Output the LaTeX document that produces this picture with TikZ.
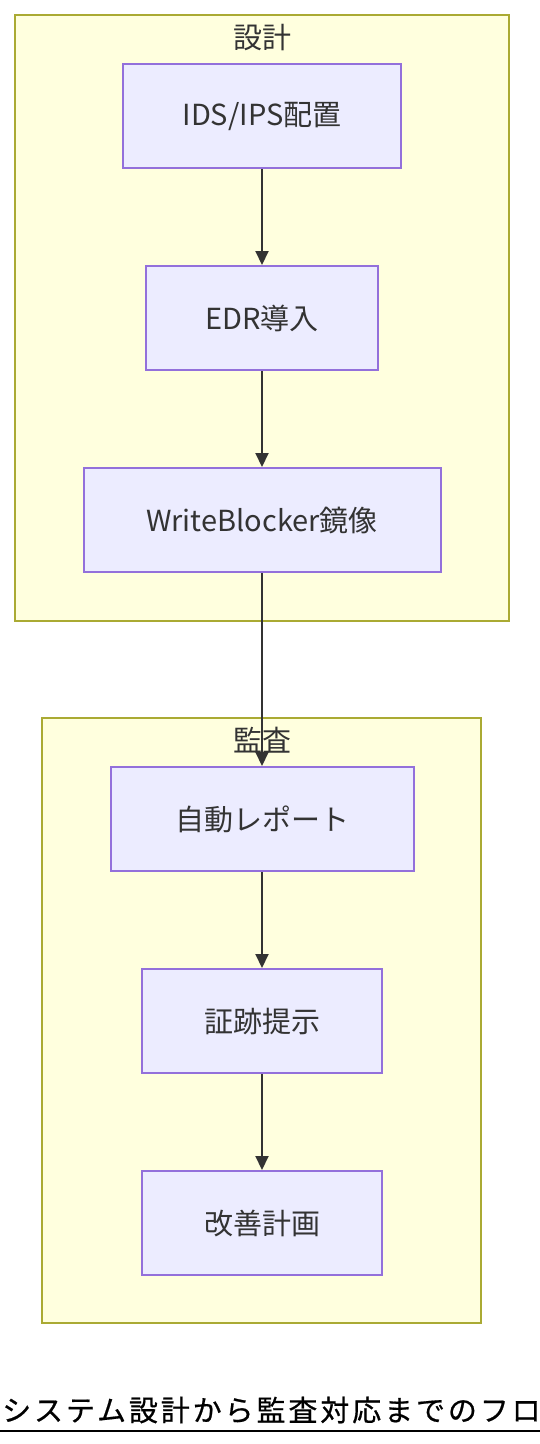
\documentclass[tikz,border=0pt]{standalone}
\usepackage{fontspec}
\setmainfont{Noto Sans CJK JP}
\usepackage{tikz}
\usetikzlibrary{positioning, arrows.meta}
\usepackage{xcolor}

\definecolor{clusterfill}{HTML}{FFFFDE}
\definecolor{clusterline}{HTML}{AAAA33}
\definecolor{nodefill}{HTML}{ECECFF}
\definecolor{nodeline}{HTML}{9370DB}
\definecolor{textgray}{HTML}{333333}

\begin{document}
\begin{tikzpicture}[x=1pt, y=-1pt, node distance=202pt, every node/.style={font=\fontsize{29}{34}\selectfont, text=textgray}]
  \tikzstyle{cluster} = [fill=clusterfill, draw=clusterline, line width=1.5pt]
  \tikzstyle{process} = [rectangle, minimum height=104pt, text centered, draw=nodeline, fill=nodefill, line width=2pt]
  \tikzstyle{arrow} = [draw=textgray, line width=2pt, -{Triangle[length=14pt, width=13pt]}]

  \useasboundingbox (0,0) rectangle (540,1444);

  % Gruppen
  \draw [cluster] (15,15) rectangle (509,621);
  \draw [cluster] (42,718) rectangle (481,1323);
  \node (designlabel) at (262,38) {設計};
  \node (auditlabel) at (262,740) {監査};

  % Schritte
  \node (ids) [process, minimum width=278pt] at (262,116) {IDS/IPS配置};
  \node (edr) [process, minimum width=232pt, below of=ids] {EDR導入};
  \node (wb) [process, minimum width=357pt, below of=edr] {WriteBlocker鏡像};
  \node (report) [process, minimum width=303pt, below of=wb, node distance=299pt] {自動レポート};
  \node (evidence) [process, minimum width=240pt, below of=report] {証跡提示};
  \node (improve) [process, minimum width=240pt, below of=evidence] {改善計画};

  \draw [arrow] (ids) -- (edr);
  \draw [arrow] (edr) -- (wb);
  \draw [arrow] (wb) -- (report);
  \draw [arrow] (report) -- (evidence);
  \draw [arrow] (evidence) -- (improve);

  % Titel
  \node (title) [anchor=west, inner sep=0pt, text=black, font=\fontsize{29}{34}\selectfont\addfontfeature{LetterSpace=10, FakeBold=0.6}] at (2,1410) {システム設計から監査対応までのフロ};
  \draw [black, line width=2pt] (0,1431) -- (540,1431);
\end{tikzpicture}
\end{document}
